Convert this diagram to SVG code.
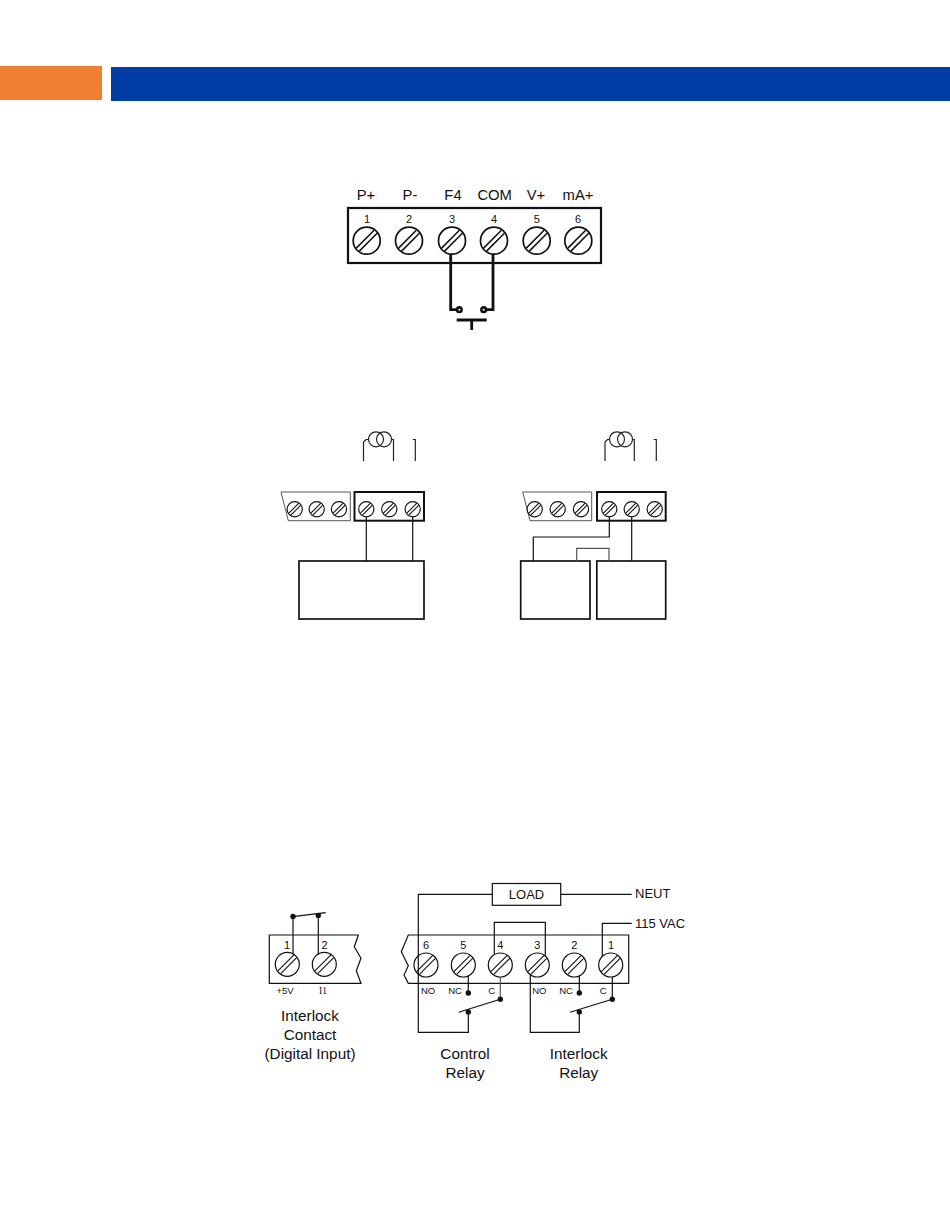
<svg xmlns="http://www.w3.org/2000/svg" width="950" height="1229" viewBox="0 0 950 1229">
<style>
text{font-family:"Liberation Sans",Arial,sans-serif;fill:#111;text-anchor:middle}
.h{font-size:14.8px}.n{font-size:11px}.s{font-size:9.5px}.l{font-size:15.3px}.m{font-size:13px}
.box{fill:none;stroke:#111}
.w{fill:none;stroke:#111;stroke-width:1.2}
.t{fill:none;stroke:#111;stroke-width:2.8}
.c{fill:none;stroke:#222;stroke-width:1.2}
.g{fill:none;stroke:#555;stroke-width:1.2}
.d{fill:#111}
.sc{fill:#fff;stroke:#111}
.sl{fill:none;stroke:#111}
</style>
<defs>
<g id="sL"><circle class="sc" r="13.5" stroke-width="1.7"/><path class="sl" stroke-width="1.5" d="M-10.4,7.4L7.4,-10.4M-7.4,10.4L10.4,-7.4"/></g>
<g id="sM"><circle class="sc" r="7.6" stroke-width="1.2"/><path class="sl" stroke-width="1.1" d="M-5.9,3.9L3.9,-5.9M-3.9,5.9L5.9,-3.9"/></g>
<g id="sB"><circle class="sc" r="12" stroke-width="1.2"/><path class="sl" stroke-width="1.1" d="M-9.4,6.6L6.6,-9.4M-6.6,9.4L9.4,-6.6"/></g>
</defs>

<g id="header">
<rect x="0" y="66" width="102" height="34" fill="#EF7F33"/>
<rect x="111" y="67" width="839" height="34" fill="#003DA5"/>
</g>

<g id="terminal-block-top">
<rect class="box" x="348" y="208" width="253" height="55" stroke-width="2.2"/>
<use href="#sL" x="366.7" y="240.7"/><use href="#sL" x="409" y="240.7"/><use href="#sL" x="452" y="240.7"/>
<use href="#sL" x="494" y="240.7"/><use href="#sL" x="536.7" y="240.7"/><use href="#sL" x="578.3" y="240.7"/>
<text class="n" x="367" y="222.5">1</text><text class="n" x="409" y="222.5">2</text><text class="n" x="452" y="222.5">3</text>
<text class="n" x="494" y="222.5">4</text><text class="n" x="536.7" y="222.5">5</text><text class="n" x="578" y="222.5">6</text>
<text class="h" x="366" y="200">P+</text><text class="h" x="410" y="200">P-</text><text class="h" x="453" y="200">F4</text>
<text class="h" x="494.7" y="200">COM</text><text class="h" x="536" y="200">V+</text><text class="h" x="578" y="200">mA+</text>
</g>

<g id="pushbutton">
<path class="t" d="M456.7,320H486.7M471.7,320V330"/>
</g>

<g id="ct-left">
<path class="c" d="M363.5,461V442L366,439.5H369M391.5,439.5H393.5V461M412.7,439.5H415.3V461"/>
<circle class="c" cx="376" cy="439.3" r="7.5"/><circle class="c" cx="384" cy="439.3" r="7.5"/>
</g>
<g id="terminal-left-inactive">
<path d="M281,492H350.3V520.7H288.3Z" fill="none" stroke="#555" stroke-width="1"/>
<use href="#sM" x="294.7" y="509.3"/><use href="#sM" x="316.7" y="509.3"/><use href="#sM" x="339" y="509.3"/>
</g>
<g id="terminal-left-active">
<rect class="box" x="354.5" y="492" width="69.5" height="28.7" stroke-width="2"/>
<use href="#sM" x="366.3" y="509.3"/><use href="#sM" x="389.3" y="509.3"/><use href="#sM" x="412.7" y="509.3"/>
</g>
<g id="device-left"><rect class="box" x="299" y="561" width="125" height="58" stroke-width="1.7"/></g>

<g id="ct-right">
<path class="c" d="M605,461V442L607.5,439.5H609.5M632.5,439.5H634.3V461M653.7,439.5H656.3V461"/>
<circle class="c" cx="617" cy="439.3" r="7.5"/><circle class="c" cx="625" cy="439.3" r="7.5"/>
</g>
<g id="terminal-right-inactive">
<path d="M522.7,492H591.7V520.7H530Z" fill="none" stroke="#555" stroke-width="1"/>
<use href="#sM" x="534.7" y="509.3"/><use href="#sM" x="557.7" y="509.3"/><use href="#sM" x="581" y="509.3"/>
</g>
<g id="terminal-right-active">
<rect class="box" x="597" y="492" width="68.7" height="28.7" stroke-width="2"/>
<use href="#sM" x="609.3" y="509.3"/><use href="#sM" x="631.7" y="509.3"/><use href="#sM" x="654.7" y="509.3"/>
</g>
<g id="device-right-a"><rect class="box" x="520.7" y="561" width="69.3" height="58" stroke-width="1.7"/></g>
<g id="device-right-b"><rect class="box" x="596.8" y="561" width="68.9" height="58" stroke-width="1.7"/></g>

<g id="interlock-contact">
<path class="box" stroke-width="1.2" d="M358.3,935H269.3V983.3H361L356.3,970.7L361,958.3L354.3,946.7Z"/>
<use href="#sB" x="287.3" y="964.3"/><use href="#sB" x="324.3" y="964.3"/>
<text class="n" x="287" y="949">1</text><text class="n" x="324.5" y="949">2</text>
<text class="s" x="285" y="994">+5V</text>
<text x="323" y="994" style="font-family:'Liberation Serif',serif;font-size:9.5px">I1</text>
<text class="l" x="310" y="1021">Interlock</text><text class="l" x="310" y="1040">Contact</text><text class="l" x="310" y="1059">(Digital Input)</text>
</g>

<g id="relay-terminal">
<path class="box" stroke-width="1.2" d="M408.3,935H628.7V983.3H408.3L404,975L408.3,965.7L401.3,951.7Z"/>
<use href="#sB" x="426" y="965"/><use href="#sB" x="463.3" y="965"/><use href="#sB" x="500.3" y="965"/>
<use href="#sB" x="537.3" y="965"/><use href="#sB" x="574.3" y="965"/><use href="#sB" x="610.7" y="965"/>
<text class="n" x="426" y="948.5">6</text><text class="n" x="463.3" y="948.5">5</text><text class="n" x="500.3" y="948.5">4</text>
<text class="n" x="537.3" y="948.5">3</text><text class="n" x="574.3" y="948.5">2</text><text class="n" x="611" y="948.5">1</text>
<text class="s" x="428" y="994">NO</text><text class="s" x="455" y="994">NC</text><text class="s" x="491.7" y="994">C</text>
<text class="s" x="539.3" y="994">NO</text><text class="s" x="566" y="994">NC</text><text class="s" x="603.3" y="994">C</text>
<text class="l" x="465" y="1059">Control</text><text class="l" x="465" y="1078">Relay</text>
<text class="l" x="578.7" y="1059">Interlock</text><text class="l" x="578.7" y="1078">Relay</text>
</g>

<g id="load">
<rect class="box" x="492.3" y="883.5" width="68.4" height="21.8" stroke-width="1.2"/>
<text class="m" x="526.5" y="899">LOAD</text>
</g>
<g id="neut-label"><text class="m" x="635" y="897.7" style="text-anchor:start">NEUT</text></g>
<g id="vac-label"><text class="m" x="635" y="927.7" style="text-anchor:start">115 VAC</text></g>

<g id="connectors">
<path class="t" d="M450.7,254V309.7H459M493,254V309.7H484"/>
<circle class="d" cx="459.3" cy="309.7" r="3.6"/><circle class="d" cx="483.7" cy="309.7" r="3.6"/>
<circle cx="459.3" cy="309.7" r="1" fill="#fff"/><circle cx="483.7" cy="309.7" r="1" fill="#fff"/>
<path class="w" d="M366.3,516.8V561M412.7,516.8V561"/>
<path class="w" d="M609.3,516.8V537H533.3V561M631.7,516.8V561"/>
<path class="g" d="M576.7,561V548.3H609V561"/>
<path class="w" d="M293,953.7V916.5M318.3,954.4V916M293,916.7L325.7,912.7"/>
<path class="w" d="M492.3,894.3H418.3V1032.3H468.3V1012.3"/>
<path class="w" d="M560.7,894.3H631.7M631.7,923.3H602.3V956.4"/>
<path class="w" d="M494.3,954.6V922.3H545.3V956"/>
<path class="w" d="M468.3,975.9V992.7"/>
<path class="g" d="M500.3,977V999.3"/>
<path class="w" d="M458.7,1012.3L500.3,999.3"/>
<path class="w" d="M530.3,974.7V1032.3H579.3V1012.3"/>
<path class="w" d="M579.3,975.9V993M612.3,976.9V999.3M570,1012.3L612.3,999.3"/>
<g class="d">
<circle cx="293" cy="916.5" r="2.7"/><circle cx="318.3" cy="915.5" r="2.7"/>
<circle cx="468.3" cy="993" r="2.7"/><circle cx="500.3" cy="999.3" r="2.7"/><circle cx="468.3" cy="1012" r="2.7"/>
<circle cx="579.3" cy="993" r="2.7"/><circle cx="612.3" cy="999.3" r="2.7"/><circle cx="579.3" cy="1012" r="2.7"/>
</g>
</g>
</svg>
